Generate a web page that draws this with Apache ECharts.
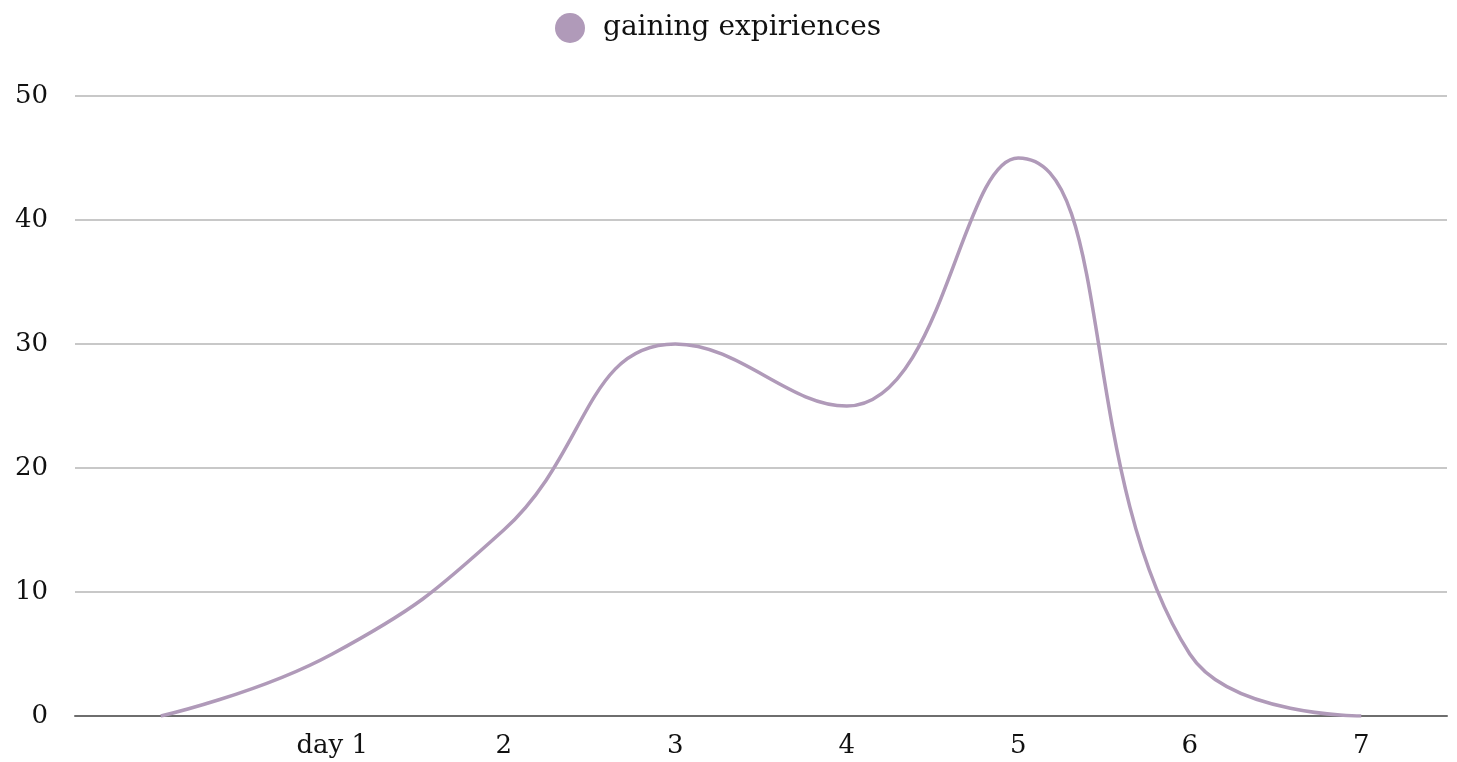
<!DOCTYPE html>
<html>
<head>
<meta charset="utf-8">
<script src="https://cdn.jsdelivr.net/npm/echarts@6/dist/echarts.min.js"></script>
<style>html,body{margin:0;padding:0;background:#fff}#c{width:1457px;height:762px}</style>
</head>
<body>
<div id="c"></div>
<script>
var categories = ["", "day 1", "2", "3", "4", "5", "6", "7"];
var seriesName = "gaining expiriences";
var values = [0, 5, 15, 30, 25, 45, 5, 0];
var yTicks = { min: 0, max: 50, interval: 10 };

var FONT = '"DejaVu Serif", "Liberation Serif", serif';
var chart = echarts.init(document.getElementById('c'), null, { renderer: 'canvas' });
chart.setOption({
  animation: false,
  legend: {
    top: 8,
    left: 550,
    icon: 'circle',
    itemWidth: 56,
    itemHeight: 30,
    itemGap: 10,
    textStyle: { fontFamily: FONT, fontSize: 28, color: '#111' },
    data: [seriesName]
  },
  grid: { left: 75, right: 10, top: 96, bottom: 46, containLabel: false },
  xAxis: {
    type: 'category',
    data: categories,
    boundaryGap: true,
    axisLine: { lineStyle: { color: '#6e6e6e', width: 2 } },
    axisTick: { show: false },
    axisLabel: { fontFamily: FONT, fontSize: 26, color: '#111', margin: 17, interval: 0 },
    splitLine: { show: false }
  },
  yAxis: {
    type: 'value',
    min: yTicks.min, max: yTicks.max, interval: yTicks.interval,
    axisLine: { show: false },
    axisTick: { show: false },
    axisLabel: { fontFamily: FONT, fontSize: 26, color: '#111', margin: 27 },
    splitLine: { lineStyle: { color: '#c8c8c8', width: 2 } }
  },
  series: [{
    name: seriesName,
    type: 'line',
    data: values,
    smooth: 0.45,
    showSymbol: false,
    symbol: 'circle',
    itemStyle: { color: '#b09ab9' },
    lineStyle: { color: '#b09ab9', width: 3.5 }
  }]
});
</script>
</body>
</html>
